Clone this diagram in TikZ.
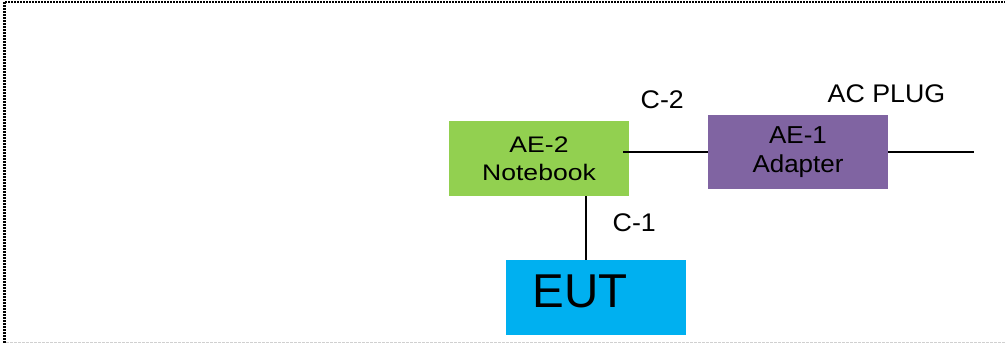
\documentclass[tikz,border=0pt]{standalone}
\usepackage{fontspec}
\setmainfont{Liberation Sans}
\newfontfamily\boxfontA[FakeStretch=1.18]{Liberation Sans}
\newfontfamily\boxfontB[FakeStretch=1.06]{Liberation Sans}
\newfontfamily\labfont[FakeStretch=1.05]{Liberation Sans}
\definecolor{aegreen}{HTML}{92D050}
\definecolor{aepurple}{HTML}{8064A2}
\definecolor{eutblue}{HTML}{00B0F0}
\definecolor{framegray}{HTML}{D0D0D0}
\tikzset{
  box/.style={draw=none, inner sep=0pt, align=center, text=black},
  lab/.style={inner sep=0pt, anchor=base west, font=\labfont\fontsize{25.5}{30}\selectfont},
  wire/.style={draw=black, line width=1.3pt},
}
\begin{document}
\begin{tikzpicture}[x=1pt,y=-1pt]
\useasboundingbox (0,0) rectangle (1005,343);
% frame
\draw[line width=2.2pt, dash pattern=on 2pt off 1pt] (4.5,343) -- (4.5,1.6) -- (1005,1.6);
\draw[framegray, line width=1.2pt, dash pattern=on 2.7pt off 1.3pt] (6,342.3) -- (1005,342.3);
% boxes
\node[box, fill=aegreen, minimum width=180pt, minimum height=75pt,
      font=\boxfontA\fontsize{22.5}{30}\selectfont] (ae2) at (539,158.5) {AE-2\\[-2pt]Notebook};
\node[box, fill=aepurple, minimum width=180pt, minimum height=74pt,
      font=\boxfontB\fontsize{24.5}{30}\selectfont] (ae1) at (798,152) {AE-1\\[-1pt]Adapter};
\node[box, fill=eutblue, minimum width=180pt, minimum height=75pt] (eut) at (596,297.5) {};
\node[inner sep=0pt, anchor=base west, font=\fontsize{47.5}{50}\selectfont] (eutlab) at (532.5,307) {EUT};
% connectors
\coordinate (c1x) at (586,0);
\coordinate (plug) at (974,152);
\draw[wire] ([xshift=-6pt]ae1.west -| ae2.east) -- (ae1.west);
\draw[wire] (ae1.east) -- (plug);
\draw[wire] (ae2.south -| c1x) -- (eut.north -| c1x);
% labels
\node[lab] (c1) at (612.5,231) {C-1};
\node[lab] (c2) at (640.5,108) {C-2};
\node[lab] (acplug) at (827.5,102) {AC PLUG};
\end{tikzpicture}
\end{document}
